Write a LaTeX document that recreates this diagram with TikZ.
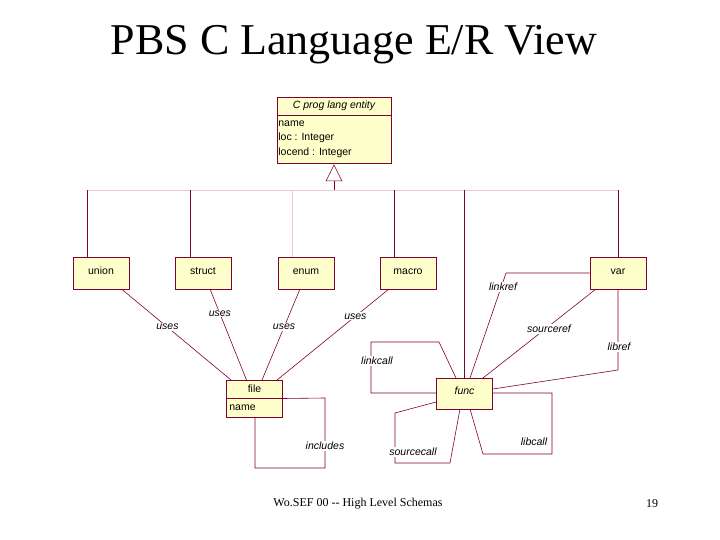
\documentclass[tikz,border=0pt]{standalone}
\usepackage{fontspec}
\setmainfont{Liberation Serif}
\newfontfamily\diagfont{Liberation Sans}
\definecolor{boxfill}{RGB}{255,255,204}
\definecolor{boxline}{RGB}{128,0,48}
\definecolor{busline}{RGB}{240,200,220}
\tikzset{every picture/.style={line width=0.75pt}}
\tikzset{
  ent/.style={draw=boxline,fill=boxfill,line width=0.75pt,minimum width=56pt,minimum height=32pt,inner sep=0pt,text height=8pt,text depth=6pt,font=\diagfont\fontsize{10.5}{12}\selectfont},
  lnk/.style={draw=boxline,line width=0.6pt},
  lbl/.style={font=\diagfont\itshape\fontsize{10.5}{12}\selectfont,fill=white,inner sep=1pt}
}
\begin{document}
\begin{tikzpicture}[x=1pt,y=1pt,yscale=-1,xscale=1]
\useasboundingbox (0,0) rectangle (720,540);

% Title
\node (title) at (354,45) {\fontsize{44}{46}\selectfont PBS C Language E/R View};

% Superclass box
\node [ent,minimum width=114pt,minimum height=66pt] (base) at (334,130) {};
\node [font=\diagfont\itshape\fontsize{10.5}{12}\selectfont] (basehd) at (334,106) {C prog lang entity};
\draw [boxline,line width=0.5] (277,115) -- (391,115) ;
\node [anchor=west,font=\diagfont\fontsize{10.5}{14.5}\selectfont,align=left,inner sep=1pt] (baseat) at (277,139) {name\\loc : Integer\\locend : Integer};

% Generalisation bus
\coordinate (apex) at (334,165);
\draw [boxline,fill=white,line width=0.5] (apex) -- (326,181) -- (342,181) -- cycle ;
\draw [busline] (87,190) -- (618,190) ;
\draw [boxline,line width=0.5] (334,181) -- (334,190) ;

% Entity boxes
\node [ent] (union) at (101,273) {union};
\node [ent] (struct) at (203,273) {struct};
\node [ent] (enum) at (306,273) {enum};
\node [ent] (macro) at (408,273) {macro};
\node [ent] (var) at (618,273) {var};
\node [ent,minimum width=56pt,minimum height=37pt] (file) at (254.5,398.5) {};
\node [font=\diagfont\fontsize{10.5}{12}\selectfont] (filehd) at (254.5,389) {file};
\draw [boxline,line width=0.5] (file.west) -- (file.east) ;
\node [anchor=west,font=\diagfont\fontsize{10.5}{12}\selectfont,inner sep=1pt] (filename) at (228,408) {name};
\node [ent,minimum height=31pt,font=\diagfont\itshape\fontsize{10.5}{12}\selectfont] (func) at (464.5,393.5) {func};

% Inheritance legs
\draw [lnk] (union.north -| 87,0) -- (87,190) ;
\draw [lnk] (struct.north -| 190,0) -- (190,190) ;
\draw [busline] (enum.north -| 292,0) -- (292,190) ;
\draw [lnk] (macro.north -| 394,0) -- (394,190) ;
\draw [lnk] (func.north -| 464,0) -- (464,190) ;
\draw [lnk] (var.north) -- (618,190) ;

% uses
\draw [lnk] (121.5,289) -- (231,380) node [lbl,pos=0.42] {uses};
\draw [lnk] (210,289) -- (246.5,380) node [lbl,pos=0.27] {uses};
\draw [lnk] (300,289) -- (262,380) node [lbl,pos=0.42] {uses};
\draw [lnk] (389,289) -- (277,380) node [lbl,pos=0.3] {uses};

% includes
\draw [lnk] (file.east) -- (325,398) -- (325,468) -- (255,468) -- (255,417) ;
\node [lbl] (inclbl) at (325,446) {includes};

% var to func
\draw [lnk] (var.west |- 0,273) -- (506,273) -- (470,378) ;
\node [lbl] (lrlbl) at (503,287) {linkref};
\draw [lnk] (596,289) -- (483,378) ;
\node [lbl] (srlbl) at (549,329) {sourceref};
\draw [lnk] (var.south) -- (618,370) -- (func.east |- 0,389) ;
\node [lbl] (lblbl) at (619,347) {libref};

% func self calls
\draw [lnk] (func.west |- 0,393) -- (371,393) -- (371,342) -- (439,342) -- (456,378) ;
\node [lbl] (lclbl) at (377,361) {linkcall};
\draw [lnk] (436,402) -- (395,413) -- (395,463) -- (450,463) -- (460,409) ;
\node [lbl] (sclbl) at (413,452) {sourcecall};
\draw [lnk] (func.east |- 0,393) -- (552,393) -- (552,454) -- (483,454) -- (470,409) ;
\node [lbl] (lclbl2) at (534,442) {libcall};

% Footer
\node (foot) at (358,504) {\fontsize{12}{14}\selectfont Wo.SEF 00 -{}- High Level Schemas};
\node (pgno) at (652,504) {\fontsize{12}{14}\selectfont 19};

\end{tikzpicture}
\end{document}
